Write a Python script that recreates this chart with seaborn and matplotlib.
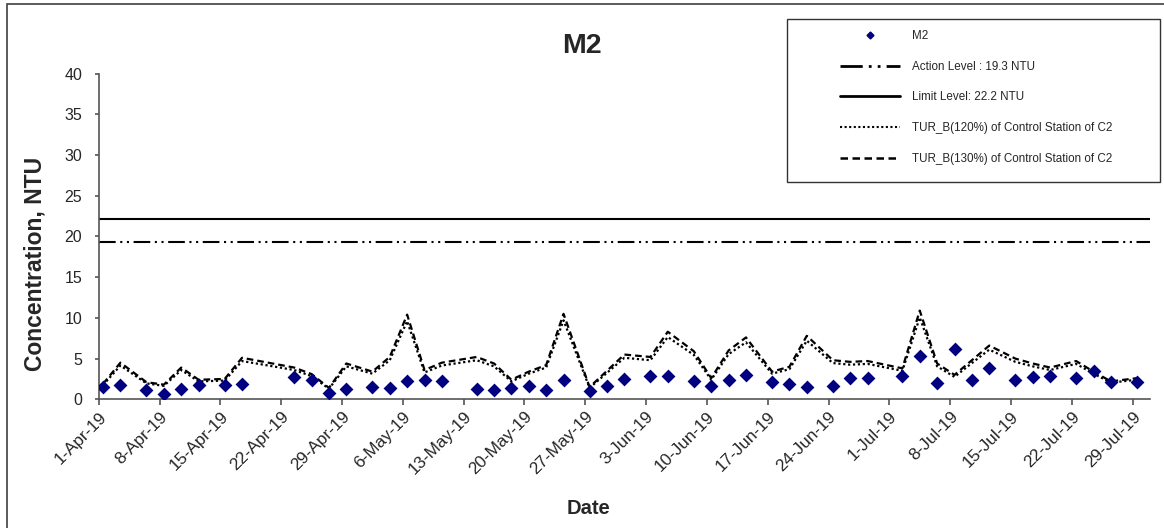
import numpy as np
import pandas as pd
import matplotlib
matplotlib.use("Agg")
import matplotlib.pyplot as plt
from matplotlib.lines import Line2D
from matplotlib.patches import Rectangle
from matplotlib.transforms import ScaledTranslation
import seaborn as sns

# ---------------- data ----------------
dates = ["2019-04-01", "2019-04-03", "2019-04-06", "2019-04-08", "2019-04-10", "2019-04-12",
         "2019-04-15", "2019-04-17", "2019-04-23", "2019-04-25", "2019-04-27", "2019-04-29",
         "2019-05-02", "2019-05-04", "2019-05-06", "2019-05-08", "2019-05-10", "2019-05-14",
         "2019-05-16", "2019-05-18", "2019-05-20", "2019-05-22", "2019-05-24", "2019-05-27",
         "2019-05-29", "2019-05-31", "2019-06-03", "2019-06-05", "2019-06-08", "2019-06-10",
         "2019-06-12", "2019-06-14", "2019-06-17", "2019-06-19", "2019-06-21", "2019-06-24",
         "2019-06-26", "2019-06-28", "2019-07-02", "2019-07-04", "2019-07-06", "2019-07-08",
         "2019-07-10", "2019-07-12", "2019-07-15", "2019-07-17", "2019-07-19", "2019-07-22",
         "2019-07-24", "2019-07-26", "2019-07-29"]

m2 = [1.5, 1.8, 1.2, 0.6, 1.3, 1.7, 1.8, 1.9, 2.7, 2.4, 0.8, 1.3,
      1.55, 1.4, 2.3, 2.4, 2.2, 1.3, 1.2, 1.4, 1.6, 1.2, 2.4, 1.0,
      1.6, 2.5, 2.9, 2.9, 2.25, 1.6, 2.4, 2.95, 2.1, 1.85, 1.5, 1.6,
      2.6, 2.65, 2.85, 5.35, 2.05, 6.2, 2.35, 3.9, 2.35, 2.7, 2.85, 2.6,
      3.5, 2.15, 2.1]

tur_120 = [1.75, 4.15, 1.95, 1.65, 3.6, 2.2, 2.3, 4.7, 3.6, 2.85, 1.3, 4.05,
           3.15, 4.8, 9.6, 3.3, 4.15, 4.8, 4.05, 2.2, 3.15, 3.9, 9.7, 1.4,
           3.25, 5.1, 4.8, 7.65, 5.45, 2.4, 5.55, 7.0, 3.15, 3.7, 7.2, 4.45,
           4.25, 4.35, 3.5, 10.05, 4.05, 2.75, 4.45, 6.1, 4.6, 4.05, 3.6, 4.35,
           3.15, 2.05, 2.4]

tur_130 = [1.9, 4.5, 2.1, 1.8, 3.9, 2.4, 2.5, 5.1, 3.9, 3.1, 1.4, 4.4,
           3.4, 5.2, 10.4, 3.6, 4.5, 5.2, 4.4, 2.4, 3.4, 4.2, 10.5, 1.5,
           3.5, 5.5, 5.2, 8.3, 5.9, 2.6, 6.0, 7.6, 3.4, 4.0, 7.8, 4.8,
           4.6, 4.7, 3.8, 10.9, 4.4, 3.0, 4.8, 6.6, 5.0, 4.4, 3.9, 4.7,
           3.4, 2.2, 2.6]

action_level = 19.3
limit_level = 22.2

tick_dates = ["2019-04-01", "2019-04-08", "2019-04-15", "2019-04-22", "2019-04-29",
              "2019-05-06", "2019-05-13", "2019-05-20", "2019-05-27", "2019-06-03",
              "2019-06-10", "2019-06-17", "2019-06-24", "2019-07-01", "2019-07-08",
              "2019-07-15", "2019-07-22", "2019-07-29"]
tick_labels = ["1-Apr-19", "8-Apr-19", "15-Apr-19", "22-Apr-19", "29-Apr-19",
               "6-May-19", "13-May-19", "20-May-19", "27-May-19", "3-Jun-19",
               "10-Jun-19", "17-Jun-19", "24-Jun-19", "1-Jul-19", "8-Jul-19",
               "15-Jul-19", "22-Jul-19", "29-Jul-19"]
y_ticks = [0, 5, 10, 15, 20, 25, 30, 35, 40]

legend_labels = ["M2", "Action Level : 19.3 NTU", "Limit Level: 22.2 NTU",
                 "TUR_B(120%) of Control Station of C2",
                 "TUR_B(130%) of Control Station of C2"]

# ---------------- style ----------------
sns.set_style("white")
plt.rcParams["font.family"] = ["Liberation Sans", "DejaVu Sans"]

W, H = 1164, 528
fig = plt.figure(figsize=(W / 100, H / 100), dpi=100)
ax = fig.add_axes([98.7 / W, 1 - 399.3 / H, (1150 - 98.7) / W, (399.3 - 73.7) / H])

# Excel date axis with points placed between tick marks (centre of day)
x = pd.to_datetime(dates) + pd.Timedelta(hours=12)
df = pd.DataFrame({"date": x, "m2": m2, "t120": tur_120, "t130": tur_130})

dot_ls = (0, (1.0, 1.2))
dash_ls = (0, (3.0, 1.8))
act_ls = (0, (8.0, 2.2, 1.0, 2.2, 1.0, 2.2))

sns.lineplot(data=df, x="date", y="t120", ax=ax, color="black", lw=1.6,
             linestyle=dot_ls, zorder=2)
sns.lineplot(data=df, x="date", y="t130", ax=ax, color="black", lw=1.6,
             linestyle=dash_ls, zorder=3)
sns.scatterplot(data=df, x="date", y="m2", ax=ax, marker="D", s=50,
                color="#000080", linewidth=0, zorder=5, legend=False)

ax.axhline(action_level, color="black", lw=1.5, linestyle=act_ls, zorder=2)
ax.axhline(limit_level, color="black", lw=1.5, zorder=2)

ax.set_xlim(pd.Timestamp("2019-04-01"), pd.Timestamp("2019-07-31"))
ax.set_ylim(0, 40)
ax.set_xticks(pd.to_datetime(tick_dates))
ax.set_xticklabels(tick_labels, rotation=45, ha="right", va="top",
                   rotation_mode="anchor", fontsize=12.3)
shift = ScaledTranslation(5 / 100, 0, fig.dpi_scale_trans)
for lab in ax.get_xticklabels():
    lab.set_transform(lab.get_transform() + shift)
ax.set_yticks(y_ticks)
ax.set_yticklabels([str(v) for v in y_ticks], fontsize=11.5)
ax.set_xlabel("")
ax.set_ylabel("")

for s in ["top", "right"]:
    ax.spines[s].set_visible(False)
for s in ["left", "bottom"]:
    ax.spines[s].set_color("#555555")
    ax.spines[s].set_linewidth(1.2)
ax.tick_params(axis="y", direction="out", length=3, width=1.2, color="#555555", pad=9, left=True)
ax.tick_params(axis="x", direction="out", length=4, width=1.2, color="#555555", pad=3, bottom=True)

# titles / labels as figure text
fig.text(582 / W, 1 - 46 / H, "M2", ha="center", va="center", fontsize=20.5, fontweight="bold")
fig.text(35 / W, 1 - 264 / H, "Concentration, NTU", ha="center", va="center",
         rotation=90, fontsize=16.5, fontweight="bold")
fig.text(589 / W, 1 - 509 / H, "Date", ha="center", va="center", fontsize=14.5, fontweight="bold")

# outer chart frame (left & top visible)
fig.add_artist(Rectangle((6.5 / W, -1), 3, 1 + (1 - 4 / H), transform=fig.transFigure,
                         fill=False, edgecolor="#404040", lw=1.2, zorder=1))

# legend box
fig.add_artist(Rectangle((787 / W, 1 - 182 / H), (1160 - 787) / W, (182 - 19) / H,
                         transform=fig.transFigure, facecolor="white",
                         edgecolor="#333333", lw=1.0, zorder=3))
handles = [
    Line2D([], [], marker="D", ls="none", color="#000080", ms=3.5),
    Line2D([], [], color="black", lw=2, linestyle=act_ls),
    Line2D([], [], color="black", lw=2),
    Line2D([], [], color="black", lw=1.5, linestyle=dot_ls),
    Line2D([], [], color="black", lw=1.8, linestyle=dash_ls),
]
leg = fig.legend(handles, legend_labels, loc="upper left",
                 bbox_to_anchor=(840 / W, 1 - 30 / H), bbox_transform=fig.transFigure,
                 frameon=False, borderpad=0, borderaxespad=0, handlelength=5.15,
                 handletextpad=1.0, labelspacing=1.6, fontsize=8.4)
leg.set_zorder(6)

fig.savefig("out.png", dpi=100)
